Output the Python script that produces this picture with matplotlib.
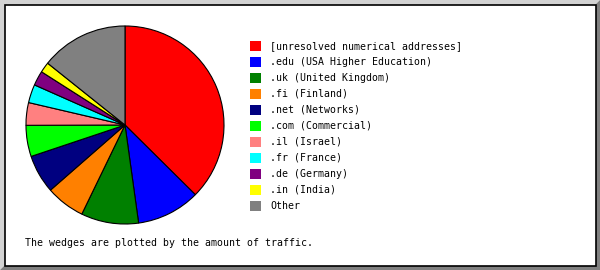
import matplotlib
matplotlib.use("Agg")
from matplotlib import pyplot as plt
from matplotlib.patches import Rectangle, Polygon

labels = ['[unresolved numerical addresses]', '.edu (USA Higher Education)',
          '.uk (United Kingdom)', '.fi (Finland)', '.net (Networks)',
          '.com (Commercial)', '.il (Israel)', '.fr (France)',
          '.de (Germany)', '.in (India)', 'Other']
shares = [37.5, 10.4, 9.4, 6.4, 6.3, 5.1, 3.7, 3.0, 2.4, 1.7, 14.3]
colors = ['#ff0000', '#0000ff', '#008000', '#ff8000', '#000080', '#00ff00',
          '#ff8080', '#00ffff', '#800080', '#ffff00', '#808080']
caption = 'The wedges are plotted by the amount of traffic.'

W, H = 600, 270
fig = plt.figure(figsize=(W / 100, H / 100), dpi=100)
fig.patch.set_facecolor('white')

def fx(px):
    return px / W

def fy(py):
    return 1 - py / H

# bevelled frame
fig.patches.append(Polygon([(fx(0), fy(0)), (fx(W), fy(0)), (fx(W - 5), fy(5)),
                            (fx(5), fy(5)), (fx(5), fy(H - 5)), (fx(0), fy(H))],
                           closed=True, transform=fig.transFigure,
                           facecolor='#d3d3d3', edgecolor='none'))
fig.patches.append(Polygon([(fx(W), fy(0)), (fx(W), fy(H)), (fx(0), fy(H)),
                            (fx(5), fy(H - 5)), (fx(W - 5), fy(H - 5)), (fx(W - 5), fy(5))],
                           closed=True, transform=fig.transFigure,
                           facecolor='#808080', edgecolor='none'))
fig.patches.append(Rectangle((fx(4.5), fy(265.5)), fx(591), 1 - fy(261), transform=fig.transFigure,
                             facecolor='white', edgecolor='black', linewidth=1.2))

# pie
ax = fig.add_axes([fx(25), fy(225), fx(200), 1 - fy(200)])
ax.set_zorder(2)
ax.patch.set_visible(False)
ax.pie(shares, colors=colors, startangle=90, counterclock=False,
       wedgeprops=dict(edgecolor='black', linewidth=0.8))
ax.set_xlim(-1.01, 1.01)
ax.set_ylim(-1.01, 1.01)
ax.set_aspect('equal')
ax.axis('off')

mono = 'DejaVu Sans Mono'
# legend
for i, (lab, col) in enumerate(zip(labels, colors)):
    yc = 46 + 16 * i
    fig.patches.append(Rectangle((fx(250), fy(yc + 5)), fx(11), 1 - fy(10),
                                 transform=fig.transFigure, facecolor=col, edgecolor='none'))
    fig.text(fx(270), fy(yc), lab, fontsize=7.1, family=mono, va='center', ha='left')

fig.text(fx(25), fy(243), caption, fontsize=7.1, family=mono, va='center', ha='left')

fig.savefig('out.png', dpi=100)
